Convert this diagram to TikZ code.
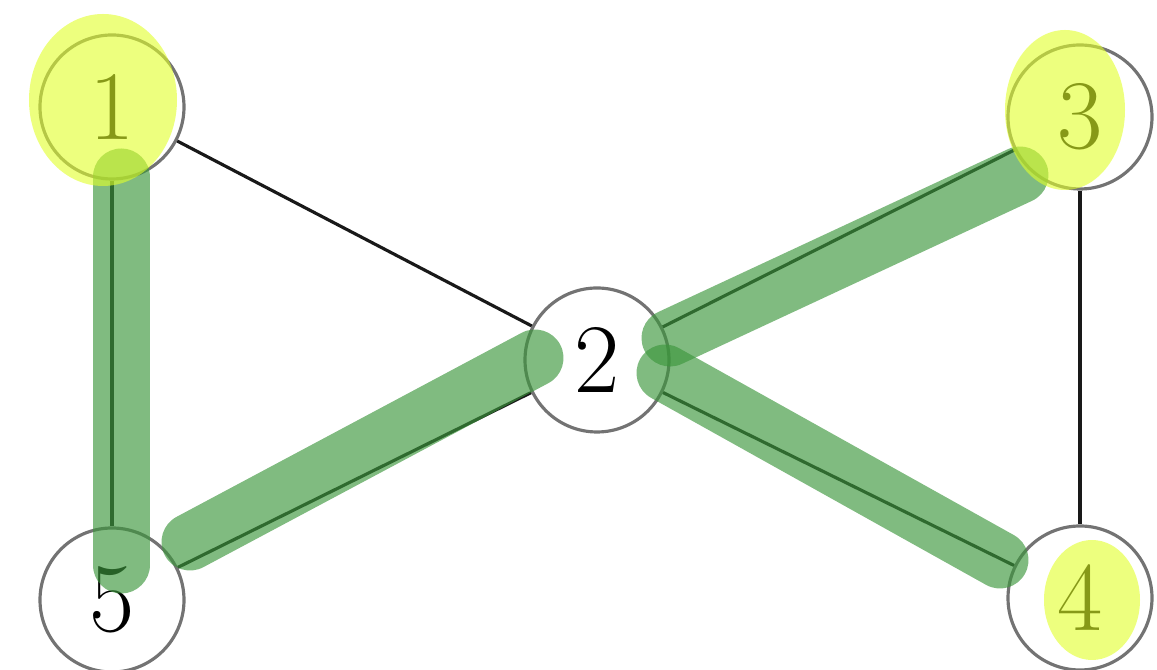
\documentclass[tikz,border=0pt]{standalone}
\usepackage{tikz}
\usetikzlibrary{positioning, calc}

\definecolor{markgreen}{RGB}{60,150,60}
\definecolor{markyellow}{RGB}{225,255,40}

\tikzset{
    vertex/.style={draw=black!55, line width=0.9pt, circle, minimum size=1.44cm, inner sep=0pt, font=\fontsize{28}{34}\selectfont},
    edge/.style={draw=black!90, line width=0.9pt},
    pen/.style={draw=markgreen, opacity=0.65, line width=0.57cm, line cap=round},
    blob/.style={fill=markyellow, opacity=0.6}
}

\begin{document}
\begin{tikzpicture}

    \useasboundingbox (0,0) rectangle (11.57,6.70);

    % ===== vertices =====
    \node[vertex] (n1) at (1.12, 5.63) {1};
    \node[vertex] (n2) at (5.97, 3.10) {2};
    \node[vertex] (n3) at (10.80, 5.53) {3};
    \node[vertex] (n4) at (10.80, 0.72) {4};
    \node[vertex] (n5) at (1.12, 0.70) {5};

    % ===== edges =====
    \draw[edge] (n1) -- (n2);
    \draw[edge] (n1) -- (n5);
    \draw[edge] (n5) -- (n2);
    \draw[edge] (n2) -- (n3);
    \draw[edge] (n2) -- (n4);
    \draw[edge] (n3) -- (n4);

    % ===== green marker strokes =====
    \draw[pen] (1.21, 4.93) -- (1.21, 1.05);
    \draw[pen] (1.90, 1.28) -- (5.35, 3.12);
    \draw[pen] (6.70, 3.32) -- (10.20, 4.95);
    \draw[pen] (6.65, 2.97) -- (10.00, 1.10);

    % ===== yellow marker blobs =====
    \fill[blob] (1.03, 5.70) ellipse [x radius=0.74, y radius=0.86];
    \fill[blob] (10.65, 5.60) ellipse [x radius=0.60, y radius=0.80];
    \fill[blob] (10.92, 0.70) ellipse [x radius=0.48, y radius=0.60];

\end{tikzpicture}
\end{document}
